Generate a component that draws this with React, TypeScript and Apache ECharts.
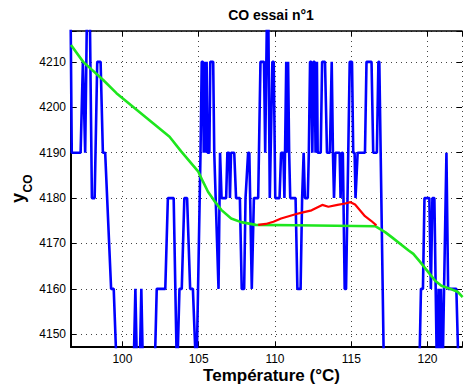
import React, { useEffect, useRef } from "react";
import * as echarts from "echarts";

// Blue measured signal (°C, y_CO); values 4222 / 4140 lie outside the visible range and are clipped
const blueTemp = [
  96.6, 96.68, 97.26, 97.41, 97.56, 97.68, 97.86, 98.0, 98.18, 98.35, 98.57, 98.72, 98.87, 99.26, 99.43, 99.65,
  100.72, 100.85, 100.97, 101.12, 101.24, 101.36, 102.1, 102.25, 102.81, 102.98, 103.36, 103.58, 103.74, 103.89,
  104.06, 104.24, 104.44, 104.62, 104.85, 105.12, 105.2, 105.28, 105.33, 105.38, 105.45, 105.52, 105.58, 105.7,
  105.76, 105.95, 106.02, 106.3, 106.4, 106.5, 106.8, 106.88, 107.0, 107.05, 107.12, 107.33, 107.45, 107.7,
  107.82, 107.98, 108.07, 108.24, 108.32, 108.48, 108.62, 108.9, 109.05, 109.28, 109.36, 109.48, 109.56, 109.66,
  109.83, 109.92, 110.02, 110.3, 110.4, 110.55, 110.62, 110.74, 110.8, 110.86, 110.93, 111.0, 111.35, 111.47,
  111.68, 111.78, 111.88, 111.96, 112.15, 112.22, 112.3, 112.38, 112.45, 112.52, 112.6, 112.66, 112.75, 112.8,
  113.0, 113.09, 113.28, 113.41, 113.6, 113.72, 113.8, 113.87, 113.96, 114.24, 114.3, 114.38, 114.45, 114.57,
  114.66, 114.9, 115.05, 115.13, 115.22, 115.28, 115.42, 115.9, 116.0, 116.33, 116.44, 116.68, 116.78, 116.84,
  117.15, 119.45, 119.57, 119.7, 119.8, 120.12, 120.22, 120.32, 120.45, 120.62, 120.72, 120.8, 120.88, 120.98,
  121.24, 121.35, 121.89, 122.05, 122.3,
];
const blueCO = [
  4222, 4190, 4190, 4210, 4190, 4222, 4222, 4180, 4180, 4210, 4210, 4190, 4190, 4160, 4160, 4140,
  4140, 4160, 4140, 4140, 4160, 4140, 4140, 4160, 4160, 4180, 4180, 4140, 4160, 4160,
  4180, 4180, 4160, 4160, 4140, 4190, 4210, 4210, 4190, 4210, 4190, 4210, 4190, 4190,
  4210, 4210, 4190, 4160, 4190, 4180, 4180, 4190, 4190, 4180, 4190, 4190, 4180, 4180,
  4160, 4160, 4180, 4190, 4190, 4160, 4180, 4180, 4210, 4210, 4190, 4222, 4222, 4180,
  4210, 4210, 4180, 4180, 4190, 4190, 4180, 4210, 4190, 4210, 4190, 4180, 4180, 4160,
  4160, 4180, 4190, 4180, 4180, 4190, 4210, 4210, 4190, 4210, 4210, 4190, 4210, 4190,
  4190, 4210, 4210, 4190, 4190, 4210, 4190, 4180, 4190, 4190, 4180, 4190, 4190, 4160,
  4160, 4210, 4210, 4190, 4190, 4180, 4190, 4190, 4210, 4210, 4190, 4190, 4210, 4210,
  4140, 4140, 4160, 4160, 4180, 4180, 4160, 4180, 4180, 4140, 4160, 4140, 4160, 4140,
  4190, 4160, 4160, 4140, 4140,
];

// Green smooth curve
const greenTemp = [
  96.63, 97.43, 98.74, 99.61, 101.35, 103.09, 103.85, 104.96, 105.3, 105.61, 106.0, 106.48, 107.13, 107.78,
  108.74, 111.35, 116.57, 117.22, 117.65, 118.74, 119.07, 119.5, 120.05, 120.5, 120.91, 121.5, 122.0, 122.3,
];
const greenCO = [
  4213.7, 4210.0, 4206.0, 4203.1, 4198.3, 4193.5, 4190.3, 4185.9, 4183.5, 4181.4, 4179.5, 4177.4, 4175.5, 4174.7,
  4174.1, 4174.0, 4173.8, 4172.5, 4171.4, 4168.5, 4167.7, 4166.0, 4163.7, 4161.8, 4160.7, 4160.0, 4159.3, 4158.2,
];

// Red bump
const redTemp = [
  108.9, 109.4, 109.9, 110.4, 110.9, 111.4, 111.9, 112.4, 112.8, 113.1, 113.5, 114.1, 114.6, 114.95, 115.25,
  115.5, 115.9, 116.3, 116.65,
];
const redCO = [
  4174.1, 4174.3, 4174.8, 4175.5, 4176.0, 4176.5, 4176.9, 4177.3, 4178.0, 4178.5, 4178.1, 4178.5, 4178.8, 4179.1,
  4178.6, 4177.6, 4176.0, 4175.0, 4174.0,
];

const xRange = [96.63, 122.26];
const yRange = [4147.2, 4216.8];

const titleText = "CO essai n°1";
const xLabelText = "Température (°C)";

const FONT = '"Liberation Sans", Arial, Helvetica, sans-serif';

function pairs(xs: number[], ys: number[]) {
  return xs.map((x, i) => [x, ys[i]]);
}

export default function App() {
  const ref = useRef<HTMLDivElement>(null);

  useEffect(() => {
    if (!ref.current) return;
    const chart = echarts.init(ref.current, null, { renderer: "svg" });

    const gridLine = { show: true, lineStyle: { color: "#444", width: 1, type: [1, 4] as any } };
    const tick = { show: true, inside: true, length: 5, lineStyle: { color: "#000", width: 1 } };

    chart.setOption({
      animation: false,
      backgroundColor: "#fff",
      grid: { left: 71, top: 31, right: 1, bottom: 40, containLabel: false },
      xAxis: [
        {
          type: "value",
          min: xRange[0],
          max: xRange[1],
          splitNumber: 5,
          axisLine: { show: true, onZero: false, lineStyle: { color: "#000", width: 2 } },
          axisTick: tick,
          splitLine: gridLine,
          axisLabel: {
            color: "#000",
            fontFamily: FONT,
            fontSize: 12,
            margin: 6,
            formatter: (v: number) => (Math.abs(v / 5 - Math.round(v / 5)) < 1e-6 ? String(Math.round(v)) : ""),
          },
        },
        {
          type: "value",
          position: "top",
          min: xRange[0],
          max: xRange[1],
          splitNumber: 5,
          axisLine: { show: true, onZero: false, lineStyle: { color: "#000", width: 1.5 } },
          axisTick: tick,
          splitLine: { show: false },
          axisLabel: { show: false },
        },
      ],
      yAxis: [
        {
          type: "value",
          min: yRange[0],
          max: yRange[1],
          splitNumber: 7,
          axisLine: { show: true, onZero: false, lineStyle: { color: "#000", width: 2 } },
          axisTick: tick,
          splitLine: gridLine,
          axisLabel: {
            color: "#000",
            fontFamily: FONT,
            fontSize: 12,
            margin: 5,
            formatter: (v: number) => (Math.abs(v / 10 - Math.round(v / 10)) < 1e-6 ? String(Math.round(v)) : ""),
          },
        },
        {
          type: "value",
          position: "right",
          min: yRange[0],
          max: yRange[1],
          splitNumber: 7,
          axisLine: { show: false },
          axisTick: tick,
          splitLine: { show: false },
          axisLabel: { show: false },
        },
      ],
      series: [
        {
          type: "line",
          data: pairs(blueTemp, blueCO),
          showSymbol: false,
          symbol: "none",
          clip: true,
          lineStyle: { color: "#0000ff", width: 2.6 },
          z: 2,
        },
        {
          type: "line",
          data: pairs(greenTemp, greenCO),
          showSymbol: false,
          symbol: "none",
          clip: true,
          lineStyle: { color: "#1ee61e", width: 2.6 },
          z: 3,
        },
        {
          type: "line",
          data: pairs(redTemp, redCO),
          showSymbol: false,
          symbol: "none",
          clip: true,
          lineStyle: { color: "#ff0000", width: 2.2 },
          z: 4,
        },
      ],
      graphic: [
        {
          type: "text",
          x: 271,
          y: 15,
          style: { text: titleText, font: `bold 14px ${FONT}`, fill: "#000", align: "center", verticalAlign: "middle" },
        },
        {
          type: "text",
          x: 271.5,
          y: 375,
          style: { text: xLabelText, font: `bold 17px ${FONT}`, fill: "#000", align: "center", verticalAlign: "middle" },
        },
        {
          type: "text",
          x: 27,
          y: 198,
          rotation: Math.PI / 2,
          style: { text: "y", font: `bold 18px ${FONT}`, fill: "#000", align: "center", verticalAlign: "bottom" },
        },
        {
          type: "text",
          x: 34,
          y: 183.5,
          rotation: Math.PI / 2,
          style: { text: "CO", font: `bold 12px ${FONT}`, fill: "#000", align: "center", verticalAlign: "bottom" },
        },
      ],
    });

    return () => chart.dispose();
  }, []);

  return (
    <div
      ref={ref}
      style={{ position: "absolute", left: 0, top: 0, width: 465, height: 387, background: "#fff" }}
    />
  );
}
